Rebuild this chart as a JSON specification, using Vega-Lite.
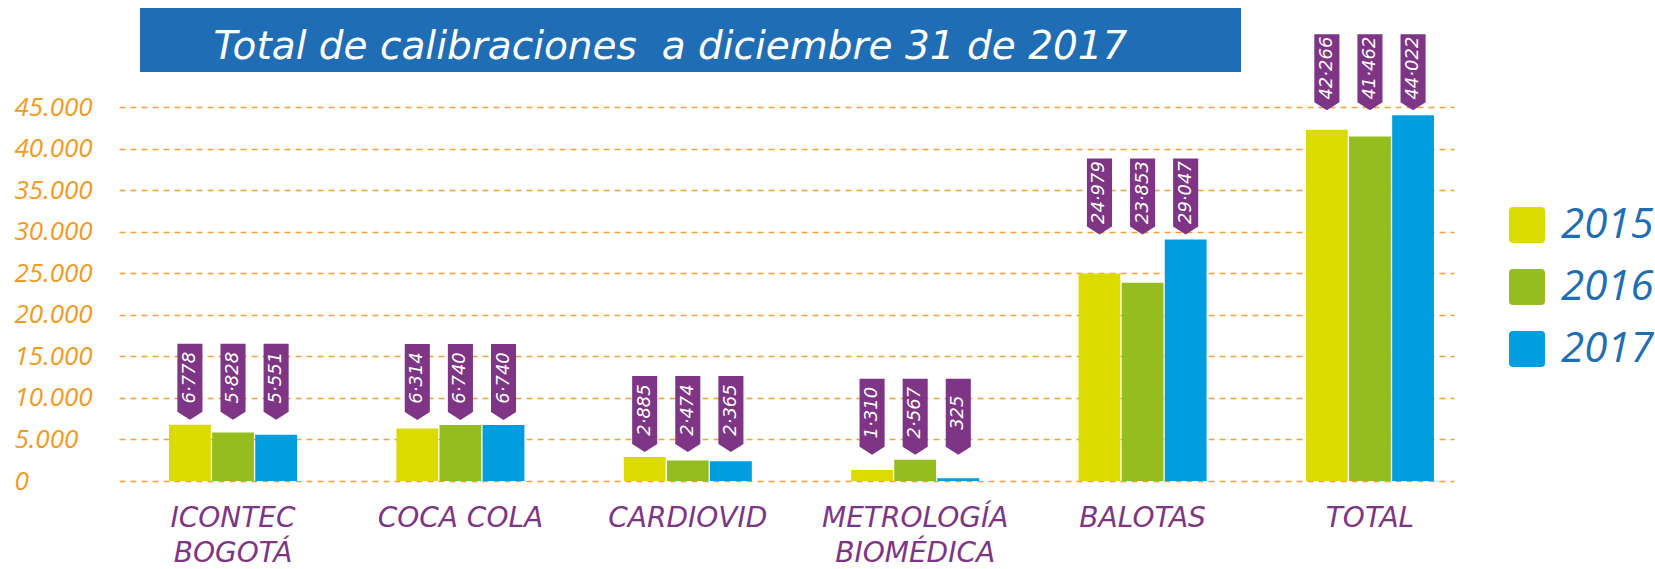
{
  "$schema": "https://vega.github.io/schema/vega-lite/v6.json",
  "autosize": {"type": "pad"},
  "padding": {"left": 14, "top": 8, "right": 0, "bottom": 0},
  "background": "white",
  "bounds": "flush",
  "spacing": 99,
  "config": {
    "font": "Open Sans",
    "view": {"stroke": null},
    "locale": {"number": {"decimal": ",", "thousands": "·", "grouping": [3], "currency": ["$", ""]}}
  },
  "vconcat": [
    {
      "bounds": "flush",
      "spacing": 20,
      "hconcat": [
        {
          "width": 1,
          "height": 64,
          "data": {"values": [{}]},
          "mark": {"type": "text"},
          "encoding": {"text": {"value": ""}}
        },
        {
          "width": 1101,
          "height": 64,
          "view": {"fill": "#1F6EB5", "stroke": null},
          "data": {"values": [{"title": "Total de calibraciones\u00a0 a diciembre 31 de 2017"}]},
          "mark": {
            "type": "text",
            "font": "DejaVu Sans",
            "fontStyle": "italic",
            "fontSize": 39,
            "color": "white",
            "align": "center",
            "baseline": "alphabetic",
            "dx": -20,
            "dy": 19
          },
          "encoding": {"text": {"field": "title", "type": "nominal"}}
        }
      ]
    },
    {
      "width": 1335,
      "height": 374,
      "data": {
        "values": [
          {"category": "ICONTEC BOGOTÁ", "year": "2015", "value": 6778},
          {"category": "ICONTEC BOGOTÁ", "year": "2016", "value": 5828},
          {"category": "ICONTEC BOGOTÁ", "year": "2017", "value": 5551},
          {"category": "COCA COLA", "year": "2015", "value": 6314},
          {"category": "COCA COLA", "year": "2016", "value": 6740},
          {"category": "COCA COLA", "year": "2017", "value": 6740},
          {"category": "CARDIOVID", "year": "2015", "value": 2885},
          {"category": "CARDIOVID", "year": "2016", "value": 2474},
          {"category": "CARDIOVID", "year": "2017", "value": 2365},
          {"category": "METROLOGÍA BIOMÉDICA", "year": "2015", "value": 1310},
          {"category": "METROLOGÍA BIOMÉDICA", "year": "2016", "value": 2567},
          {"category": "METROLOGÍA BIOMÉDICA", "year": "2017", "value": 325},
          {"category": "BALOTAS", "year": "2015", "value": 24979},
          {"category": "BALOTAS", "year": "2016", "value": 23853},
          {"category": "BALOTAS", "year": "2017", "value": 29047},
          {"category": "TOTAL", "year": "2015", "value": 42266},
          {"category": "TOTAL", "year": "2016", "value": 41462},
          {"category": "TOTAL", "year": "2017", "value": 44022}
        ]
      },
      "transform": [
        {"joinaggregate": [{"op": "max", "field": "value", "as": "groupmax"}], "groupby": ["category"]}
      ],
      "encoding": {
        "x": {
          "field": "category",
          "type": "nominal",
          "sort": null,
          "scale": {"paddingInner": 0.437, "paddingOuter": 0.154, "align": 0.714},
          "axis": {
            "title": null,
            "labelAngle": 0,
            "domain": false,
            "ticks": false,
            "labelFont": "DejaVu Sans",
            "labelFontSize": 28,
            "labelFontStyle": "italic",
            "labelColor": "#7E3585",
            "labelPadding": 23,
            "labelBaseline": "top",
            "labelLineHeight": 35,
            "labelLimit": 0,
            "labelOverlap": false,
            "labelExpr": "datum.label == 'ICONTEC BOGOTÁ' ? ['ICONTEC', 'BOGOTÁ'] : datum.label == 'METROLOGÍA BIOMÉDICA' ? ['METROLOGÍA', 'BIOMÉDICA'] : datum.label"
          }
        },
        "xOffset": {
          "field": "year",
          "type": "nominal",
          "scale": {"paddingInner": 0.03, "paddingOuter": 0}
        }
      },
      "layer": [
        {
          "mark": {"type": "bar"},
          "encoding": {
            "y": {
              "field": "value",
              "type": "quantitative",
              "scale": {"domain": [0, 45000], "nice": false},
              "axis": {
                "title": null,
                "values": [0, 5000, 10000, 15000, 20000, 25000, 30000, 35000, 40000, 45000],
                "grid": true,
                "gridDash": [6, 5],
                "gridColor": "#F5A032",
                "gridWidth": 1.6,
                "domain": false,
                "ticks": false,
                "labelAlign": "left",
                "labelPadding": 105,
                "labelFontSize": 26,
                "labelFontStyle": "italic",
                "labelColor": "#F39A1E",
                "labelExpr": "replace(datum.label, '·', '.')"
              }
            },
            "color": {
              "field": "year",
              "type": "nominal",
              "scale": {"domain": ["2015", "2016", "2017"], "range": ["#DCDB00", "#95BD20", "#009EDF"]},
              "legend": {
                "title": null,
                "orient": "none",
                "legendX": 1387,
                "legendY": 196,
                "symbolType": "M-0.78,-1 L0.78,-1 Q1,-1 1,-0.78 L1,0.78 Q1,1 0.78,1 L-0.78,1 Q-1,1 -1,0.78 L-1,-0.78 Q-1,-1 -0.78,-1 Z",
                "symbolSize": 1296,
                "symbolStrokeWidth": 0,
                "symbolOpacity": 1,
                "labelFontSize": 42,
                "labelFontStyle": "italic",
                "labelColor": "#1F6EB5",
                "labelOffset": 13,
                "rowPadding": 20
              }
            }
          }
        },
        {
          "mark": {
            "type": "point",
            "shape": "M-0.33,-1 L0.33,-1 L0.33,0.79 L0,1 L-0.33,0.79 Z",
            "size": 5776,
            "filled": true,
            "color": "#7E3585",
            "opacity": 1,
            "strokeWidth": 0,
            "yOffset": -43
          },
          "encoding": {
            "y": {"field": "groupmax", "type": "quantitative"}
          }
        },
        {
          "mark": {
            "type": "text",
            "angle": 270,
            "align": "center",
            "baseline": "middle",
            "color": "white",
            "font": "DejaVu Sans",
            "fontSize": 18,
            "fontStyle": "italic",
            "yOffset": -47
          },
          "encoding": {
            "y": {"field": "groupmax", "type": "quantitative"},
            "text": {"field": "value", "type": "quantitative", "format": ","}
          }
        }
      ]
    }
  ]
}
